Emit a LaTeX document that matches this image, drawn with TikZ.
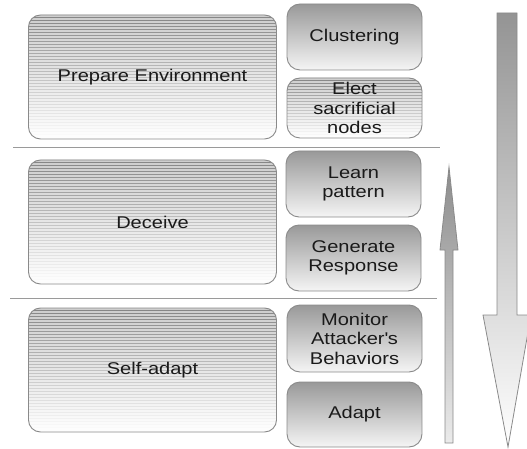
\documentclass[tikz,border=0pt]{standalone}
\usepackage{fontspec}
\setmainfont{Liberation Sans}[FakeStretch=1.18]
\definecolor{edge}{HTML}{8A8A8A}
\definecolor{ink}{HTML}{1A1A1A}
\definecolor{rule}{HTML}{9A9A9A}
\begin{document}
\begin{tikzpicture}[x=1pt,y=-1pt,
  every node/.style={font=\fontsize{17}{19.5}\selectfont, text=ink, align=center, inner sep=0pt},
  striped/.style={draw=edge, line width=0.9pt, rounded corners=12pt,
    top color=black!48, bottom color=white,
    path picture={
      \foreach \k in {1,4,...,150}
        \draw[white, opacity=0.6, line width=1.3pt]
          ([yshift=-\k pt]path picture bounding box.north west) --
          ([yshift=-\k pt]path picture bounding box.north east);
    }},
  stagebox/.style={striped, minimum width=248pt, minimum height=124pt},
  stepbox/.style={draw=edge, line width=0.9pt, rounded corners=13pt,
    top color=black!40, bottom color=black!4,
    minimum width=135pt, minimum height=66pt},
  sepline/.style={draw=rule, line width=0.8pt}]

\useasboundingbox (0,0) rectangle (527,449);

% three stages on the left
\node[stagebox] (prep) at (152.5,77)  {\raisebox{-2pt}{Prepare Environment}};
\node[stagebox] (dec)  at (152.5,222) {Deceive};
\node[stagebox] (self) at (152.5,370) {Self-adapt};

% activities of each stage
\node[stepbox] (clust) at (354.5,37) {\raisebox{-2pt}{Clustering}};
\node[striped, minimum width=135pt, minimum height=60pt, rounded corners=13pt] (elect) at (354.5,108)
  {Elect\\sacrificial\\nodes};
\node[stepbox] (learn) at (353.5,184) {Learn\\pattern};
\node[stepbox] (gen)   at (353.5,258) {Generate\\Response};
\node[stepbox, minimum height=67pt] (mon) at (354.5,338.5)
  {Monitor\\Attacker\textquotesingle s\\Behaviors};
\node[stepbox, minimum height=65pt] (adapt) at (354.5,414.5) {Adapt};

% separators between stages
\coordinate (s1a) at (13,147);  \coordinate (s1b) at (440,147);
\coordinate (s2a) at (10,298);  \coordinate (s2b) at (437,298);
\draw[sepline] (s1a) -- (s1b);
\draw[sepline] (s2a) -- (s2b);

% upward arrow
\path[draw=edge, line width=0.8pt, top color=black!45, bottom color=black!8]
  (445,443) -- (453,443) -- (453,250) -- (458,250) -- (449,167)
  -- (440,250) -- (445,250) -- cycle;

% downward arrow
\path[draw=edge, line width=0.8pt, top color=black!42, bottom color=white]
  (497,13) -- (517,13) -- (517,315) -- (531,315) -- (508,447)
  -- (483,315) -- (497,315) -- cycle;
\end{tikzpicture}
\end{document}
